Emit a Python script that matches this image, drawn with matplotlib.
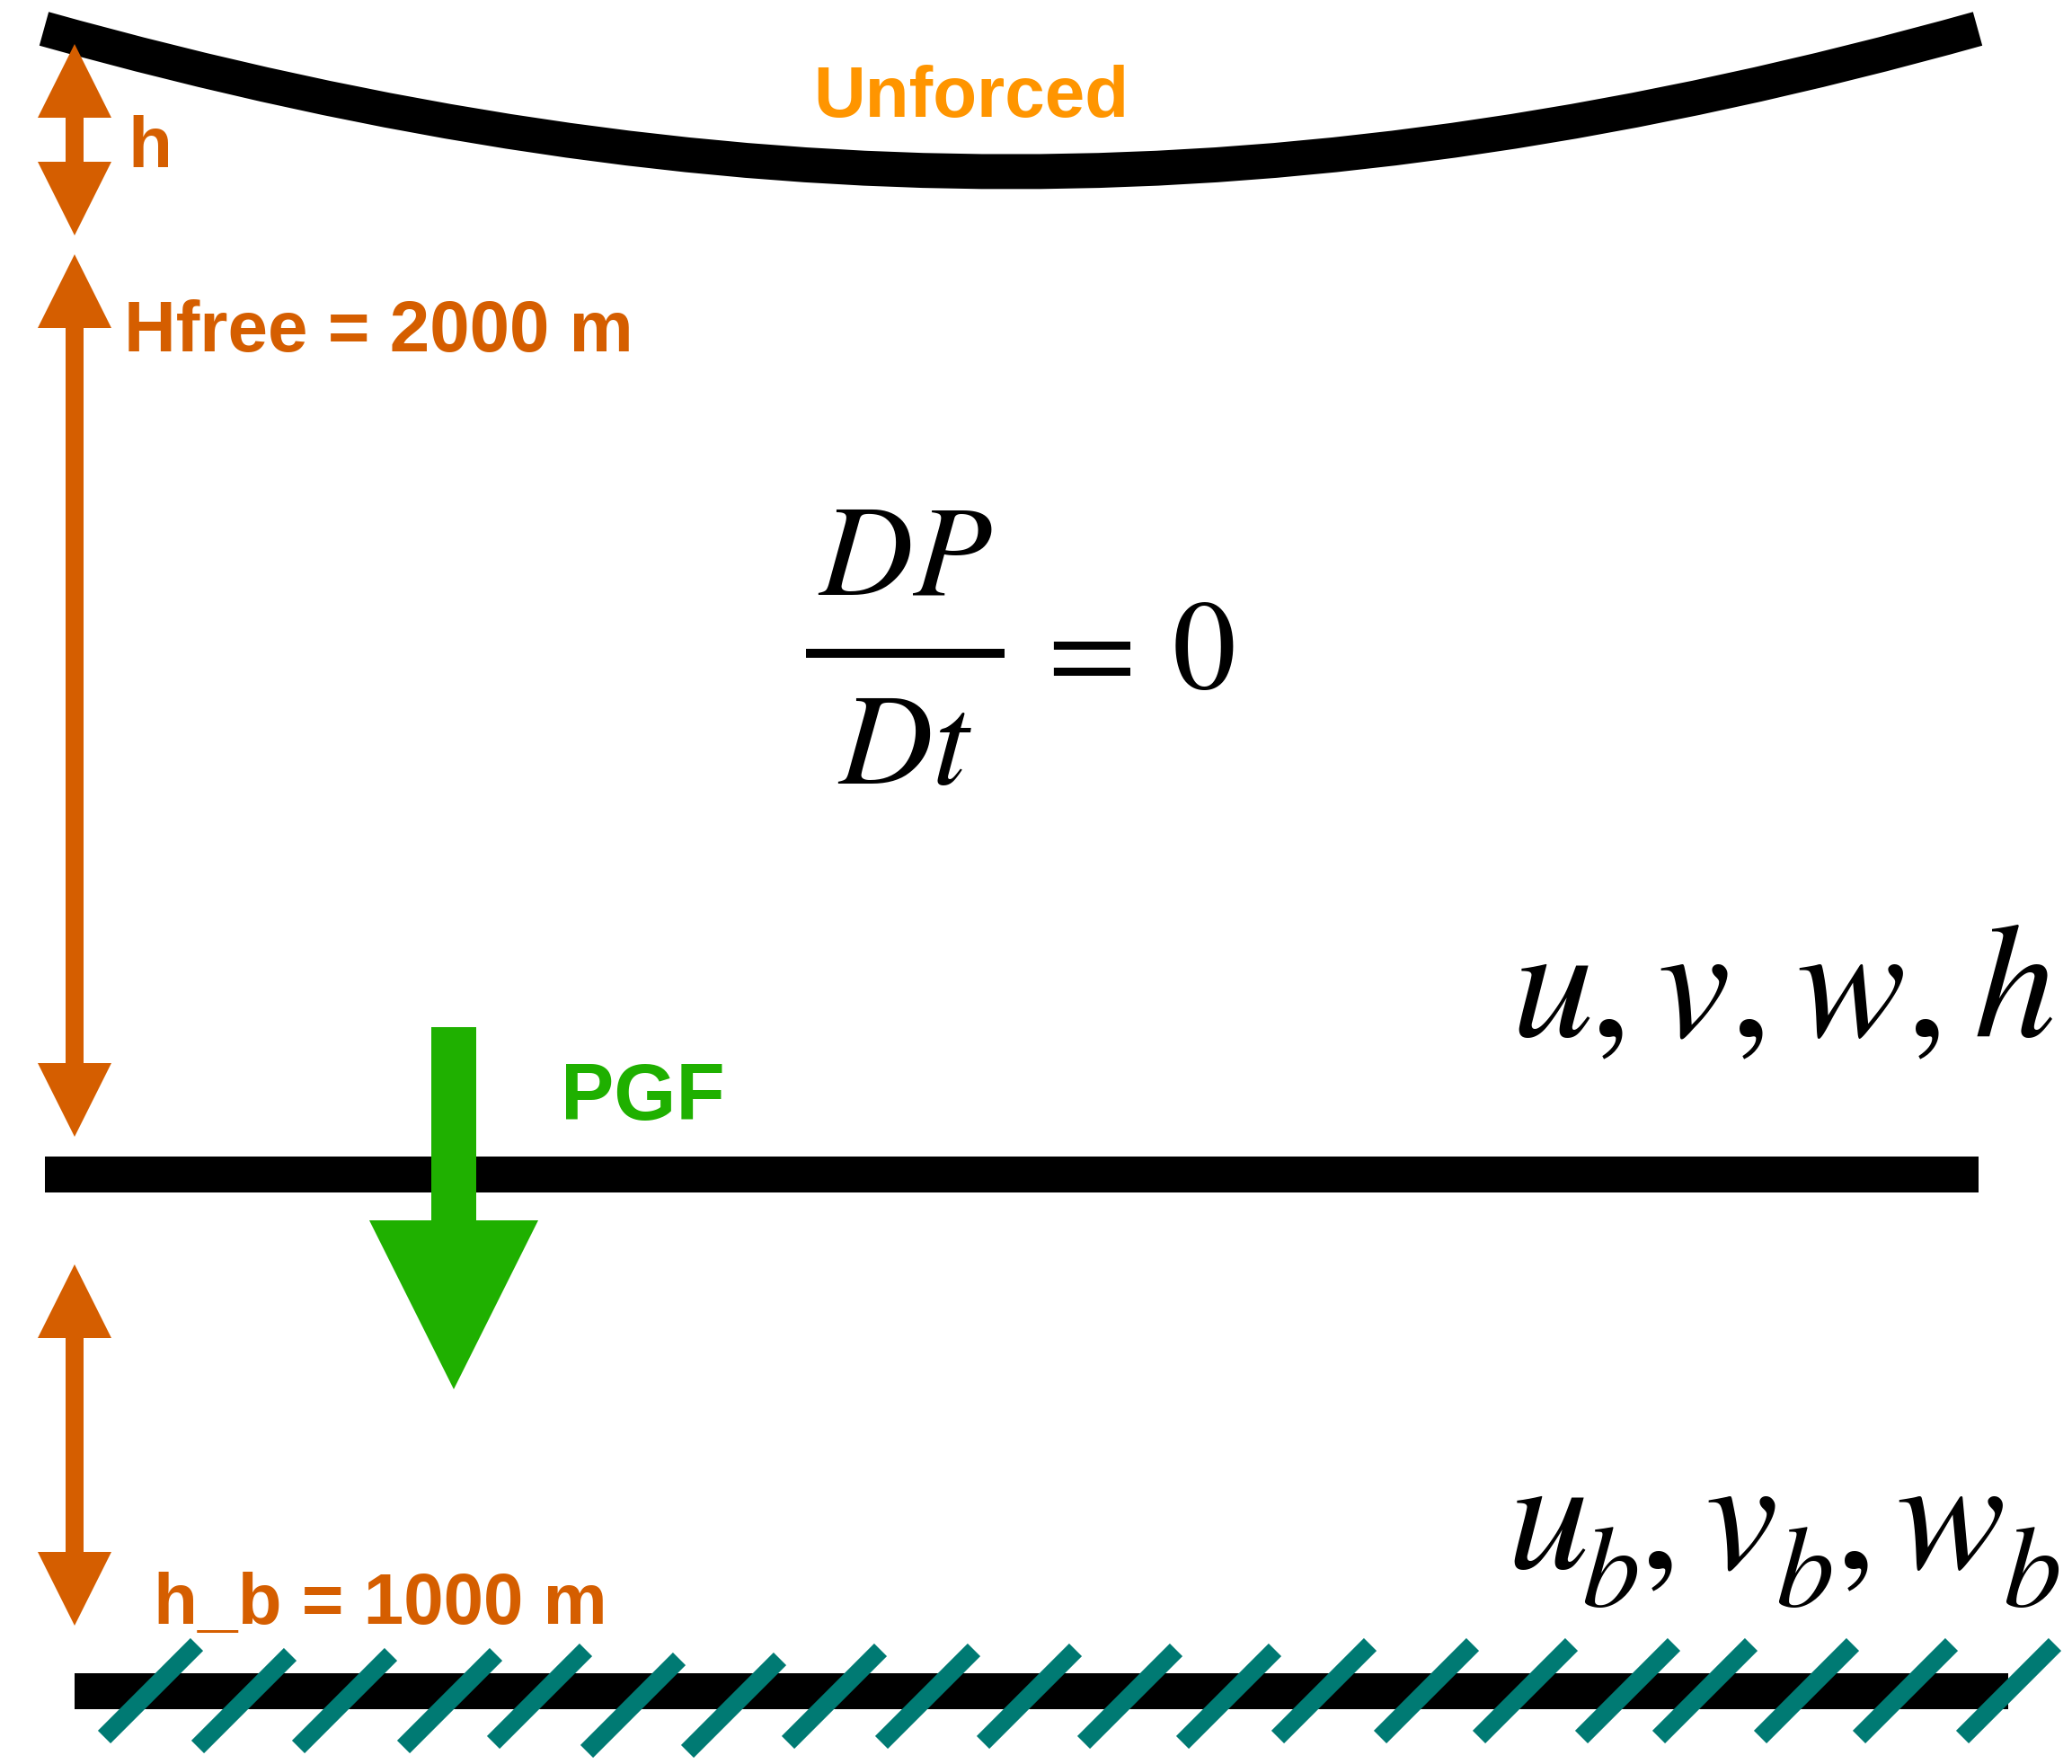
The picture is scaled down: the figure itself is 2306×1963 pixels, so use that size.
import matplotlib
matplotlib.use("Agg")
import matplotlib.pyplot as plt
from matplotlib.patches import Polygon, PathPatch
from matplotlib.path import Path

plt.rcParams['mathtext.fontset'] = 'stix'

# colours
ORANGE = '#D55E00'
LIGHT_ORANGE = '#FF9500'
GREEN = '#1FB000'
TEAL = '#007A73'

# labels
layer_labels = ['h', 'Hfree = 2000 m', 'h_b = 1000 m']
surface_label = 'Unforced'
force_label = 'PGF'
upper_vars = ['u', 'v', 'w', 'h']
lower_vars = ['u', 'v', 'w']
lower_sub = 'b'

# vertical double arrows: (x, top tip, bottom tip), picture pixels
arrow_x = [83, 83, 83]
arrow_top = [49, 283, 1407]
arrow_bottom = [262, 1265, 1809]

# hatches under the bottom boundary: left corner x, top corner y
hatch_left = [109, 213, 325, 442, 542, 646, 758, 870, 974, 1087,
              1199, 1309, 1415, 1529, 1639, 1753, 1839, 1952, 2062, 2177]
hatch_top = [1823, 1834, 1834, 1834, 1829, 1839, 1839, 1829, 1829, 1829,
             1829, 1829, 1823, 1823, 1823, 1823, 1823, 1823, 1823, 1823]

# upper-layer variable placement (letter x, comma x)
upper_x = [1682, 1844, 1999, 2196]
upper_comma_x = [1769, 1925, 2121]

# bottom-layer variable placement (letter x, subscript x, comma x)
lower_x = [1677, 1897, 2110]
lower_sub_x = [1760, 1976, 2229]
lower_comma_x = [1824, 2042]


def double_arrow(ax, x, y0, y1, head_len=82, head_w=82, shaft_w=20, color=ORANGE):
    hw, sw = head_w / 2, shaft_w / 2
    pts = [(x, y0), (x + hw, y0 + head_len), (x + sw, y0 + head_len),
           (x + sw, y1 - head_len), (x + hw, y1 - head_len), (x, y1),
           (x - hw, y1 - head_len), (x - sw, y1 - head_len),
           (x - sw, y0 + head_len), (x - hw, y0 + head_len)]
    ax.add_patch(Polygon(pts, closed=True, fc=color, ec='none', zorder=4))


def main():
    fig = plt.figure(figsize=(23.06, 19.63), dpi=100)
    ax = fig.add_axes([0, 0, 1, 1])
    ax.set_xlim(0, 2306)
    ax.set_ylim(1963, 0)
    ax.axis('off')

    # free surface (curved)
    verts = [(49, 32), (809, 244), (1441, 244), (2201, 32)]
    codes = [Path.MOVETO, Path.CURVE4, Path.CURVE4, Path.CURVE4]
    ax.add_patch(PathPatch(Path(verts, codes), fc='none', ec='black',
                           lw=28, capstyle='butt', zorder=2))

    # interface and bottom
    ax.plot([50, 2202], [1307, 1307], color='black', lw=28.8,
            solid_capstyle='butt', zorder=2)
    ax.plot([83, 2235], [1882, 1882], color='black', lw=28.8,
            solid_capstyle='butt', zorder=2)

    for xl, yt in zip(hatch_left, hatch_top):
        x0, y0 = xl + 7, yt + 110
        ax.plot([x0, x0 + 103], [y0, y0 - 103], color=TEAL, lw=14.4,
                solid_capstyle='butt', zorder=3)

    for x, y0, y1 in zip(arrow_x, arrow_top, arrow_bottom):
        double_arrow(ax, x, y0, y1)

    # PGF arrow
    pgf = [(480, 1143), (530, 1143), (530, 1358), (599, 1358), (505, 1546),
           (411, 1358), (480, 1358)]
    ax.add_patch(Polygon(pgf, closed=True, fc=GREEN, ec='none', zorder=4))

    bold = dict(family='Liberation Sans', weight='bold', va='baseline', ha='left')
    ax.text(142, 186, layer_labels[0], color=ORANGE, fontsize=57.6, **bold)
    ax.text(138, 391, layer_labels[1], color=ORANGE, fontsize=57.6, **bold)
    ax.text(171, 1807, layer_labels[2], color=ORANGE, fontsize=57.6, **bold)
    ax.text(905, 130, surface_label, color=LIGHT_ORANGE, fontsize=57.6, **bold)
    ax.text(624, 1246, force_label, color=GREEN, fontsize=64, **bold)

    # DP/Dt = 0
    ax.text(1007, 662, r'$DP$', fontsize=104, ha='center', va='baseline')
    ax.text(1007, 872, r'$Dt$', fontsize=104, ha='center', va='baseline')
    ax.plot([897, 1118], [727, 727], color='black', lw=7.2,
            solid_capstyle='butt')
    ax.text(1202, 727, r'$=$', fontsize=104, ha='center', va='center')
    ax.text(1304, 766, r'$0$', fontsize=102, ha='left', va='baseline')

    for i, name in enumerate(upper_vars):
        ax.text(upper_x[i], 1153, '$%s$' % name, fontsize=131,
                ha='left', va='baseline')
        if i < len(upper_comma_x):
            ax.text(upper_comma_x[i], 1153, '$,$', fontsize=131,
                    ha='left', va='baseline')

    for i, name in enumerate(lower_vars):
        ax.text(lower_x[i], 1745, '$%s$' % name, fontsize=131,
                ha='left', va='baseline')
        ax.text(lower_sub_x[i], 1788, '$%s$' % lower_sub, fontsize=93,
                ha='left', va='baseline')
        if i < len(lower_comma_x):
            ax.text(lower_comma_x[i], 1745, '$,$', fontsize=131,
                    ha='left', va='baseline')

    fig.savefig('out.png', dpi=100)


if __name__ == "__main__":
    main()
